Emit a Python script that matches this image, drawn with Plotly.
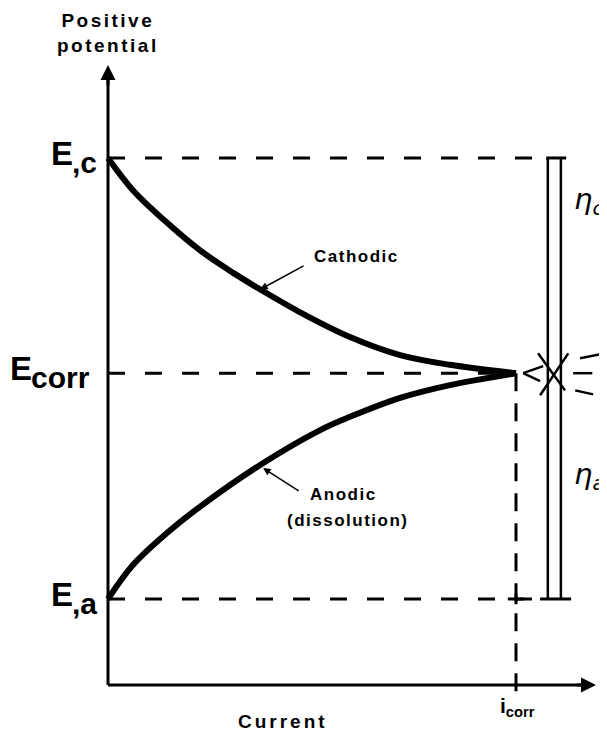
""" Polarization diagram: cathodic and anodic curves meeting at Ecorr """

import plotly.graph_objects as go

#### Diagram values (potential in units of Ec - Ea, current in units of icorr) ####

E_a = 0.0
E_corr = 0.512
E_c = 1.0
i_corr = 1.0

cathodic_i = [0.0, 0.061, 0.145, 0.225, 0.306, 0.373, 0.471, 0.593, 0.716, 0.838, 1.0]
cathodic_E = [1.0, 0.927, 0.853, 0.791, 0.740, 0.702, 0.650, 0.594, 0.553, 0.531, 0.512]

anodic_i = [0.0, 0.061, 0.145, 0.225, 0.373, 0.520, 0.593, 0.716, 0.838, 1.0]
anodic_E = [0.0, 0.077, 0.150, 0.209, 0.304, 0.383, 0.413, 0.456, 0.485, 0.512]

######## layout constants ########

axis_E = -0.195      # where the current axis sits
top_E = 1.211        # tip of potential arrow
end_i = 1.196        # tip of current arrow
bar_i = [1.078, 1.110]  # eta double bar
star_i = 1.091

FONT = "Liberation Sans, Arial, sans-serif"
INK = "black"

def spaced(txt, sp=2):
    return '<span style="letter-spacing:%spx">%s</span>' % (sp, txt)

fig = go.Figure()

# the two curves
fig.add_trace(go.Scatter(x=cathodic_i, y=cathodic_E, mode="lines",
                         line=dict(color=INK, width=6, shape="spline", smoothing=1.0),
                         hoverinfo="skip"))
fig.add_trace(go.Scatter(x=anodic_i, y=anodic_E, mode="lines",
                         line=dict(color=INK, width=6, shape="spline", smoothing=1.0),
                         hoverinfo="skip"))

dash_h = "17px,20px"
dash_v = "18px,12px"

shapes = []
# axes
shapes.append(dict(type="line", x0=0, x1=0, y0=axis_E, y1=top_E - 0.03,
                   line=dict(color=INK, width=3)))
shapes.append(dict(type="line", x0=0, x1=end_i - 0.03, y0=axis_E, y1=axis_E,
                   line=dict(color=INK, width=3)))
# dashed reference lines
shapes.append(dict(type="line", x0=0, x1=1.05, y0=E_c, y1=E_c,
                   line=dict(color=INK, width=3, dash=dash_h)))
shapes.append(dict(type="line", x0=0, x1=i_corr, y0=E_corr, y1=E_corr,
                   line=dict(color=INK, width=3, dash=dash_h)))
shapes.append(dict(type="line", x0=0, x1=1.05, y0=E_a, y1=E_a,
                   line=dict(color=INK, width=3, dash=dash_h)))
shapes.append(dict(type="line", x0=i_corr, x1=i_corr, y0=E_corr, y1=axis_E - 0.035,
                   line=dict(color=INK, width=3, dash=dash_v)))
# little cross where icorr meets Ea
shapes.append(dict(type="line", x0=i_corr - 0.02, x1=i_corr + 0.02, y0=E_a, y1=E_a,
                   line=dict(color=INK, width=3)))
shapes.append(dict(type="line", x0=i_corr, x1=i_corr, y0=E_a - 0.012, y1=E_a + 0.012,
                   line=dict(color=INK, width=3)))
# eta double bar
for bx in bar_i:
    shapes.append(dict(type="line", x0=bx, x1=bx, y0=E_a, y1=E_c,
                       line=dict(color=INK, width=2.5)))
shapes.append(dict(type="line", x0=1.074, x1=1.123, y0=E_c, y1=E_c,
                   line=dict(color=INK, width=3)))
shapes.append(dict(type="line", x0=1.059, x1=1.135, y0=E_a, y1=E_a,
                   line=dict(color=INK, width=3)))
# star of short strokes at Ecorr on the bar
rays = [(-0.0735, 0.0, -0.0245, 0.016), (-0.0735, 0.0, -0.032, -0.018),
        (-0.037, 0.045, 0.029, -0.039), (0.037, 0.045, -0.032, -0.050),
        (0.066, 0.034, 0.115, 0.043), (0.049, 0.0, 0.096, 0.0),
        (0.054, -0.039, 0.098, -0.048)]
for a, b, c, d in rays:
    shapes.append(dict(type="line", x0=star_i + a, y0=E_corr + b,
                       x1=star_i + c, y1=E_corr + d,
                       line=dict(color=INK, width=2.5)))

ann = []
# axis arrowheads
ann.append(dict(x=0, y=top_E, ax=0, ay=top_E - 0.05, xref="x", yref="y",
                axref="x", ayref="y", showarrow=True, arrowhead=2,
                arrowsize=1.0, arrowwidth=3, arrowcolor=INK, text=""))
ann.append(dict(x=end_i, y=axis_E, ax=end_i - 0.05, ay=axis_E, xref="x", yref="y",
                axref="x", ayref="y", showarrow=True, arrowhead=2,
                arrowsize=1.0, arrowwidth=3, arrowcolor=INK, text=""))
# leader lines
ann.append(dict(x=0.373, y=0.702, ax=0.483, ay=0.757, xref="x", yref="y",
                axref="x", ayref="y", showarrow=True, arrowhead=2,
                arrowsize=1, arrowwidth=1.5, arrowcolor=INK, text=""))
ann.append(dict(x=0.380, y=0.297, ax=0.471, ay=0.243, xref="x", yref="y",
                axref="x", ayref="y", showarrow=True, arrowhead=2,
                arrowsize=1, arrowwidth=1.5, arrowcolor=INK, text=""))

def label(x, y, txt, size, xa="left", ya="middle", bold=True, style="normal", fam=FONT):
    ann.append(dict(x=x, y=y, xref="x", yref="y", text=txt, showarrow=False,
                    xanchor=xa, yanchor=ya, align="center",
                    font=dict(family=fam, size=size, color=INK,
                              weight="bold" if bold else "normal", style=style)))

label(0.5, 0.776, spaced("Cathodic", 1.5), 17)
label(0.49, 0.236, spaced("Anodic", 1.5), 17)
label(0.434, 0.177, spaced("(dissolution)", 1.5), 17)
label(0, 1.283, spaced("Positive", 2.5) + "<br>" + spaced("potential", 2.5), 19, xa="center")
label(0.43, -0.277, spaced("Current", 3), 19, xa="center")

# potential labels: big E with lowered suffix
for yv, suf, left in [(E_c, ",c", -0.145), (E_corr, "corr", -0.245), (E_a, ",a", -0.145)]:
    label(left, yv + 0.01, "E", 33, xa="left", ya="middle")
    label(left + 0.052, yv - 0.01, suf, 30, xa="left", ya="middle")

label(0.955, -0.245, "i<sub>corr</sub>", 21, xa="left")
label(1.137, 0.902, "η<sub>c</sub>", 29, bold=False, style="italic", fam="DejaVu Sans")
label(1.137, 0.279, "η<sub>a</sub>", 29, bold=False, style="italic", fam="DejaVu Sans")

# the html page puts the plot 8px in from the top-left, so the figure is 8px smaller
fig.update_layout(
    width=599, height=728,
    margin=dict(l=0, r=0, t=0, b=0),
    paper_bgcolor="white", plot_bgcolor="white",
    showlegend=False,
    xaxis=dict(range=[-0.2451, 1.2230], visible=False, fixedrange=True),
    yaxis=dict(range=[-0.3107, 1.3401], visible=False, fixedrange=True),
    shapes=shapes, annotations=ann,
)

fig.write_html("out.html")
